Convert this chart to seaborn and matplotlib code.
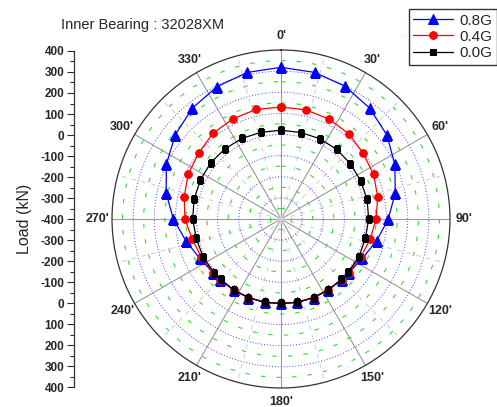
import numpy as np
import matplotlib
matplotlib.use("Agg")
import matplotlib.pyplot as plt
from matplotlib.ticker import FixedLocator, MultipleLocator
import seaborn as sns

# bearing angle (deg) and load (kN) per load case
angles = [0, 12.9, 25.7, 38.6, 51.4, 64.3, 77.1, 90, 102.9, 115.7, 128.6, 135,
          146.3, 157.5, 168.8, 180, 191.2, 202.5, 213.8, 225, 231.4, 244.3,
          257.1, 270, 282.9, 295.7, 308.6, 321.4, 334.3, 347.1, 360]
load_08g = [318, 312, 298, 272, 240, 198, 155, 108, 64, 28, 10, 6,
            4, 3, 2, 0, 2, 3, 4, 6, 10, 28,
            62, 110, 158, 202, 240, 272, 296, 312, 318]
load_04g = [130, 130, 125, 115, 98, 86, 70, 50, 33, 18, 9, 6,
            4, 3, 2, 0, 2, 3, 4, 6, 9, 18,
            31, 55, 70, 88, 99, 118, 126, 132, 130]
load_00g = [20, 20, 22, 22, 20, 18, 18, 15, 10, 10, 6, 5,
            3, 3, 2, 0, 2, 3, 4, 5, 7, 10,
            12, 18, 22, 24, 26, 25, 24, 21, 20]

angle_ticks = [0, 30, 60, 90, 120, 150, 180, 210, 240, 270, 300, 330]
angle_labels = ["0'", "30'", "60'", "90'", "120'", "150'", "180'", "210'",
                "240'", "270'", "300'", "330'"]
scale_labels = ["400", "300", "200", "100", "0", "-100", "-200", "-300", "-400",
                "-300", "-200", "-100", "0", "100", "200", "300", "400"]

sns.set_style("white")
plt.rcParams['font.family'] = ['Liberation Sans', 'DejaVu Sans']

fig = plt.figure(figsize=(4.97, 4.07), dpi=100)
ax = fig.add_axes([0.2254, 0.0467, 0.680, 0.8305], projection='polar')
ax.set_theta_zero_location('N')
ax.set_theta_direction(-1)
ax.set_rlim(-400, 400)

theta = np.deg2rad(angles)
sns.lineplot(x=theta, y=load_08g, ax=ax, color='#0000ff', marker='^', markersize=6.5,
             markeredgecolor='#0000ff', linewidth=0.9, sort=False, label='0.8G', legend=False)
sns.lineplot(x=theta, y=load_04g, ax=ax, color='#ff0000', marker='o', markersize=5.5,
             markeredgecolor='#ff0000', linewidth=0.9, sort=False, label='0.4G', legend=False)
sns.lineplot(x=theta, y=load_00g, ax=ax, color='#000000', marker='s', markersize=5,
             markeredgecolor='#000000', linewidth=0.9, sort=False, label='0.0G', legend=False)
ax.set_xlabel('')
ax.set_ylabel('')

# grid
ax.set_xticks(np.deg2rad(angle_ticks))
ax.xaxis.set_minor_locator(FixedLocator(np.deg2rad(np.arange(15, 360, 30))))
ax.set_yticks(np.arange(-300, 400, 100))
ax.yaxis.set_minor_locator(FixedLocator(np.arange(-350, 400, 100)))
ax.set_xticklabels([])
ax.set_yticklabels([])
ax.tick_params(which='both', length=0)
ax.xaxis.grid(True, which='major', color='#999999', linestyle='-', linewidth=0.8)
ax.xaxis.grid(True, which='minor', color='#d0d0d0', linestyle=(0, (4, 5)), linewidth=0.8)
ax.yaxis.grid(True, which='major', color='#4444ff', linestyle=(0, (1, 2)), linewidth=0.7)
ax.yaxis.grid(True, which='minor', color='#33dd33', linestyle=(0, (4, 10)), linewidth=0.8)
ax.set_axisbelow(True)
ax.spines['polar'].set_color('#333333')
ax.spines['polar'].set_linewidth(0.9)

for a, lab in zip(angle_ticks, angle_labels):
    ax.text(np.deg2rad(a), 468, lab, ha='center', va='center', fontsize=9,
            fontweight='bold', clip_on=False)

# left radial scale
sax = fig.add_axes([0.1489, 0.0491, 0.0001, 0.8256])
sax.set_ylim(0, 16)
sax.set_xticks([])
sax.yaxis.set_major_locator(FixedLocator(range(17)))
sax.yaxis.set_minor_locator(MultipleLocator(0.5))
sax.set_yticklabels(scale_labels[::-1], fontsize=8.5, fontweight='bold')
sax.tick_params(axis='y', which='major', direction='out', length=5, width=0.8, pad=2, left=True)
sax.tick_params(axis='y', which='minor', direction='out', length=3, width=0.8, left=True)
for s in ['top', 'right', 'bottom']:
    sax.spines[s].set_visible(False)
sax.spines['left'].set_color('#333333')
sax.spines['left'].set_linewidth(0.9)
sax.set_ylabel('Load (kN)', fontsize=11.5, labelpad=6)

fig.text(0.122, 1 - 25 / 407, 'Inner Bearing : 32028XM', fontsize=10.5, va='center', ha='left')

handles, labels = ax.get_legend_handles_labels()
leg = fig.legend(handles, labels, loc='upper right', bbox_to_anchor=(0.999, 0.978),
                 fontsize=11, frameon=True, fancybox=False, edgecolor='#000000',
                 handlelength=2.6, borderpad=0.3, labelspacing=0.15, handletextpad=0.4,
                 borderaxespad=0)
leg.get_frame().set_linewidth(1.0)

fig.savefig('out.png', dpi=100)
